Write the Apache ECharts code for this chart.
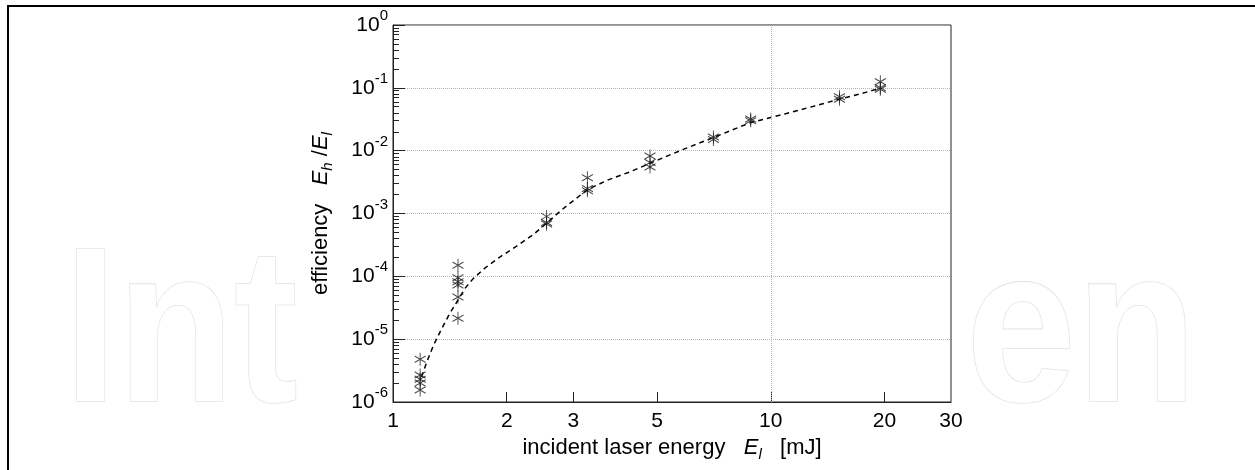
<!DOCTYPE html>
<html>
<head>
<meta charset="utf-8">
<script src="https://cdn.jsdelivr.net/npm/echarts@6/dist/echarts.min.js"></script>
<style>
html,body{margin:0;padding:0;background:#fff;}
#chart{width:1255px;height:470px;}
</style>
</head>
<body>
<div id="chart"></div>
<script>
// ---- data ----
var xTickValues = [1, 2, 3, 5, 10, 20, 30];
var xInnerTicks = [2, 3, 5, 10, 20];
var yTickValues = [1e-6, 1e-5, 1e-4, 1e-3, 1e-2, 1e-1, 1];
var yMinorTicks = [
  2e-6,3e-6,4e-6,5e-6,6e-6,7e-6,8e-6,9e-6,
  2e-5,3e-5,4e-5,5e-5,6e-5,7e-5,8e-5,9e-5,
  2e-4,3e-4,4e-4,5e-4,6e-4,7e-4,8e-4,9e-4,
  2e-3,3e-3,4e-3,5e-3,6e-3,7e-3,8e-3,9e-3,
  2e-2,3e-2,4e-2,5e-2,6e-2,7e-2,8e-2,9e-2,
  0.2,0.3,0.4,0.5,0.6,0.7,0.8,0.9
];
var measuredEnergy = [
  1.18, 1.18, 1.18, 1.18, 1.18,
  1.486, 1.486, 1.486, 1.486, 1.486, 1.486,
  2.55, 2.55, 2.55,
  3.27, 3.27, 3.27,
  4.79, 4.79, 4.79,
  7.05, 7.05,
  8.85, 8.85,
  15.2, 15.2,
  19.5, 19.5, 19.5
];
var measuredEfficiency = [
  4.8e-6, 2.7e-6, 2.3e-6, 2.0e-6, 1.55e-6,
  1.5e-4, 9.5e-5, 8.2e-5, 7.3e-5, 4.7e-5, 2.15e-5,
  9.0e-4, 7.2e-4, 6.8e-4,
  3.7e-3, 2.5e-3, 2.3e-3,
  8.2e-3, 6.5e-3, 5.5e-3,
  1.65e-2, 1.5e-2,
  3.2e-2, 3.0e-2,
  7.2e-2, 6.6e-2,
  0.125, 0.1, 0.095
];
var fitEnergy = [1.19, 1.23, 1.28, 1.34, 1.41, 1.486, 1.55, 1.63, 1.75, 1.9, 2.12, 2.35, 2.55, 2.8, 3.06, 3.27, 3.7, 4.24, 4.79, 5.8, 7.05, 8.85, 11, 13, 15.2, 17.5, 19.5];
var fitEfficiency = [2.5e-6, 4.4e-6, 8.0e-6, 1.4e-5, 2.5e-5, 4.2e-5, 6.4e-5, 9.2e-5, 1.35e-4, 1.95e-4, 3.0e-4, 4.6e-4, 7.0e-4, 1.15e-3, 1.75e-3, 2.4e-3, 3.4e-3, 4.6e-3, 6.3e-3, 1.02e-2, 1.62e-2, 2.8e-2, 3.9e-2, 5.1e-2, 6.6e-2, 8.2e-2, 0.099];

var FONT = '"Liberation Sans", Arial, Helvetica, sans-serif';
var points = measuredEnergy.map(function (x, i) { return [x, measuredEfficiency[i]]; });
var fitLine = fitEnergy.map(function (x, i) { return [x, fitEfficiency[i]]; });

var chart = echarts.init(document.getElementById('chart'), null, {renderer: 'canvas'});
chart.setOption({
  animation: false,
  backgroundColor: '#fff',
  graphic: [
    {type: 'text', z: -10, silent: true, x: 64, y: 230, scaleX: 0.87,
      style: {text: 'Int', x: 0, y: 0, font: 'bold 220px ' + FONT, fill: '#fff', stroke: '#e2e2e2', lineWidth: 1.6, verticalAlign: 'top'}},
    {type: 'text', z: -10, silent: true, x: 966, y: 230, scaleX: 0.9,
      style: {text: 'en', x: 0, y: 0, font: 'bold 220px ' + FONT, fill: '#fff', stroke: '#e2e2e2', lineWidth: 1.6, verticalAlign: 'top'}},
    {type: 'line', silent: true, shape: {x1: 7, y1: 6, x2: 1255, y2: 6}, style: {stroke: '#000', lineWidth: 2}},
    {type: 'line', silent: true, shape: {x1: 8, y1: 5, x2: 8, y2: 470}, style: {stroke: '#000', lineWidth: 2}}
  ],
  grid: {left: 393, right: 304, top: 25, bottom: 68, show: true, borderColor: '#222', borderWidth: 1, backgroundColor: 'transparent'},
  xAxis: [{
    type: 'log', logBase: 10, min: 1, max: 30,
    axisLine: {show: true, lineStyle: {color: '#222', width: 1}},
    axisTick: {show: true, inside: true, length: 10, customValues: xInnerTicks, lineStyle: {color: '#222'}},
    axisLabel: {show: true, customValues: xTickValues, margin: 9, color: '#000', fontFamily: FONT, fontSize: 21,
      formatter: function (v) { return String(Math.round(v)); }},
    splitLine: {show: false},
    minorTick: {show: false},
    name: 'incident laser energy   {i|E}{sub|l}   [mJ]',
    nameLocation: 'middle', nameGap: 30,
    nameTextStyle: {color: '#000', fontFamily: FONT, fontSize: 22,
      rich: {
        i: {fontFamily: FONT, fontSize: 22, fontStyle: 'italic', color: '#000'},
        sub: {fontFamily: FONT, fontSize: 15, fontStyle: 'italic', color: '#000', padding: [14, 0, 0, 0]}
      }}
  }],
  yAxis: [{
    type: 'log', logBase: 10, min: 1e-6, max: 1,
    axisLine: {show: true, lineStyle: {color: '#222', width: 1}},
    axisTick: {show: true, inside: true, length: 12, customValues: yTickValues, lineStyle: {color: '#222'}},
    axisLabel: {show: true, customValues: yTickValues, margin: 5, color: '#000', fontFamily: FONT,
      formatter: function (v) {
        var e = Math.round(Math.log(v) / Math.LN10);
        return '{b|10}{s|' + e + '}';
      },
      rich: {
        b: {fontFamily: FONT, fontSize: 21, color: '#000'},
        s: {fontFamily: FONT, fontSize: 15, color: '#000', padding: [0, 0, 18, 0]}
      }},
    splitLine: {show: true, lineStyle: {color: '#b4b4b4', type: 'dotted', width: 1}},
    minorTick: {show: false},
    name: 'efficiency   {i|E}{sub|h} /{i|E}{sub|l}',
    nameLocation: 'middle', nameRotate: 90, nameGap: 58,
    nameTextStyle: {color: '#000', fontFamily: FONT, fontSize: 22,
      rich: {
        i: {fontFamily: FONT, fontSize: 22, fontStyle: 'italic', color: '#000'},
        sub: {fontFamily: FONT, fontSize: 15, fontStyle: 'italic', color: '#000', padding: [14, 0, 0, 0]}
      }}
  }, {
    type: 'log', logBase: 10, min: 1e-6, max: 1, position: 'left', offset: 0,
    axisLine: {show: false},
    axisTick: {show: true, inside: true, length: 6, customValues: yMinorTicks, lineStyle: {color: '#222'}},
    axisLabel: {show: false},
    splitLine: {show: false}
  }],
  series: [{
    type: 'line', data: fitLine, showSymbol: false, symbol: 'none', smooth: false,
    lineStyle: {color: '#000', width: 1.5, type: [5, 4]}, z: 3
  }, {
    type: 'scatter', data: points,
    symbol: 'path://M5,0 L5,12 M0,3 L10,9 M0,9 L10,3',
    symbolSize: [11, 13],
    itemStyle: {color: 'transparent', borderColor: '#1a1a1a', borderWidth: 1},
    z: 4,
    markLine: {silent: true, symbol: 'none', label: {show: false},
      lineStyle: {color: '#b4b4b4', type: 'dotted', width: 1},
      data: [{xAxis: 10}]}
  }]
});
</script>
</body>
</html>
